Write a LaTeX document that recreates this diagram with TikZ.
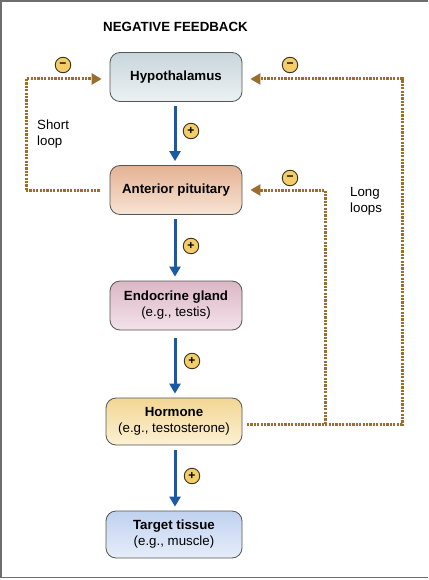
\documentclass[tikz,border=0pt]{standalone}
\usepackage{fontspec}
\setmainfont{Liberation Sans}
\usetikzlibrary{arrows.meta}
\definecolor{framegrey}{RGB}{110,110,110}
\definecolor{boxline}{RGB}{85,85,85}
\definecolor{arrowblue}{RGB}{26,90,165}
\definecolor{loopbrown}{RGB}{155,110,48}
\definecolor{signfill}{RGB}{242,205,105}
\definecolor{signline}{RGB}{60,50,30}
\definecolor{hypT}{RGB}{200,214,220}
\definecolor{hypB}{RGB}{236,241,243}
\definecolor{apT}{RGB}{228,178,148}
\definecolor{apB}{RGB}{248,228,212}
\definecolor{egT}{RGB}{220,183,198}
\definecolor{egB}{RGB}{243,226,233}
\definecolor{hoT}{RGB}{242,214,148}
\definecolor{hoB}{RGB}{252,241,212}
\definecolor{ttT}{RGB}{192,210,240}
\definecolor{ttB}{RGB}{230,237,250}
\begin{document}
\begin{tikzpicture}[x=1pt,y=-1pt,
  box/.style={draw=boxline, line width=0.8pt, rounded corners=10pt,
    minimum width=132pt, minimum height=49pt, align=center, inner sep=0pt,
    font=\fontsize{13.3}{16}\selectfont},
  sign/.style={circle, draw=signline, fill=signfill, line width=0.9pt,
    minimum size=15.5pt, inner sep=0pt, font=\bfseries\fontsize{12}{12}\selectfont},
  bluearrow/.style={draw=arrowblue, line width=3pt,
    -{Triangle[length=10pt,width=11pt]}, shorten <=4pt, shorten >=4pt},
  loopline/.style={draw=loopbrown, line width=3pt, dash pattern=on 2.2pt off 1.2pt},
  looparrow/.style={loopline, -{Triangle[length=10pt,width=11pt]}, shorten >=8pt},
  plain/.style={font=\fontsize{13.3}{16}\selectfont, align=left, anchor=west, inner sep=0pt}
]
\useasboundingbox (0,0) rectangle (428,580);
\fill[white] (0,0) rectangle (428,580);
\draw[framegrey, line width=1.8pt] (428,0.9) -- (1,0.9) -- (1,577.4) -- (428,577.4);

\node[font=\bfseries\fontsize{13.3}{16}\selectfont] (title) at (175.5,27) {NEGATIVE FEEDBACK};

\node[box, top color=hypT, bottom color=hypB] (hyp) at (176,77) {\textbf{Hypothalamus}};
\node[box, top color=apT, bottom color=apB] (ap) at (176,190) {\textbf{Anterior pituitary}};
\node[box, top color=egT, bottom color=egB] (eg) at (176,305.5) {\textbf{Endocrine gland}\\(e.g., testis)};
\node[box, top color=hoT, bottom color=hoB, minimum width=136pt, minimum height=47pt] (hor) at (174,421.5) {\textbf{Hormone}\\(e.g., testosterone)};
\node[box, top color=ttT, bottom color=ttB, minimum width=136pt, minimum height=47pt] (tt) at (174,534.5) {\textbf{Target tissue}\\(e.g., muscle)};

% positive arrows
\draw[bluearrow] ([xshift=-1pt]hyp.south) -- ([xshift=-1pt]ap.north);
\draw[bluearrow] ([xshift=-1pt]ap.south) -- ([xshift=-1pt]eg.north);
\draw[bluearrow, shorten <=8pt] ([xshift=-1pt]eg.south) -- ([xshift=-1pt]eg.south |- hor.north);
\draw[bluearrow, shorten <=5pt] ([xshift=1pt]hor.south) -- ([xshift=1pt]tt.north);

\node[sign] (p1) at (191,131) {+};
\node[sign] (p2) at (191,246) {+};
\node[sign] (p3) at (192,361) {+};
\node[sign] (p4) at (192,476) {+};

% short loop
\coordinate (s1) at (26,190);
\coordinate (s2) at (26,79);
\draw[loopline] ([xshift=-10pt]ap.west) -- (s1);
\draw[looparrow] (s1) -- (s2) -- (hyp.west |- s2);
\node[sign] (m1) at (63,65) {\raisebox{0.6pt}{−}};
\node[plain] (shortlbl) at (37,134) {Short\\loop};

% long loops
\coordinate (l0) at (247,424);
\coordinate (l1) at (402,424);
\coordinate (l2) at (402,79);
\coordinate (b1) at (325,424);
\coordinate (b2) at (325,190);
\draw[looparrow] (l0) -- (l1) -- (l2) -- (hyp.east |- l2);
\draw[looparrow] (b1) -- (b2) -- (ap.east |- b2);
\node[sign] (m2) at (290,65) {\raisebox{0.6pt}{−}};
\node[sign] (m3) at (290,178) {\raisebox{0.6pt}{−}};
\node[plain] (longlbl) at (350,201) {Long\\loops};
\end{tikzpicture}
\end{document}
